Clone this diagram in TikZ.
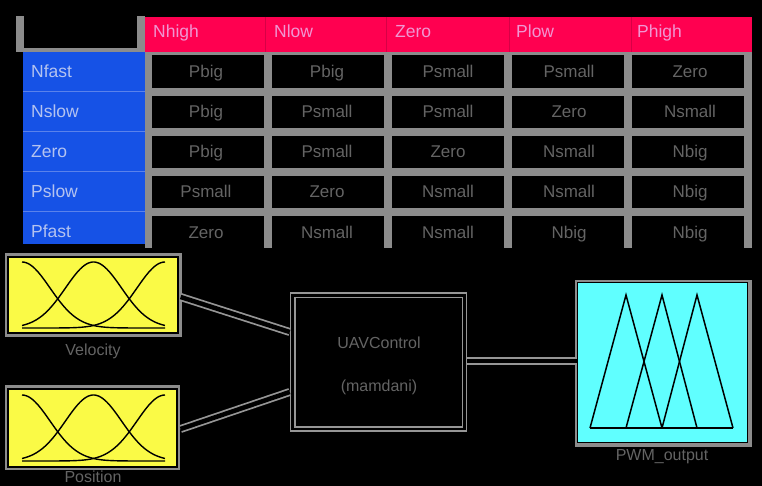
\documentclass[tikz,border=0pt]{standalone}
\usepackage{fontspec}
\setmainfont{Liberation Sans}
\definecolor{gridgray}{RGB}{140,140,140}
\definecolor{linegray}{RGB}{150,150,150}
\definecolor{hdrred}{RGB}{255,0,80}
\definecolor{hdrline}{RGB}{215,0,70}
\definecolor{hdrtext}{RGB}{240,150,210}
\definecolor{rowblue}{RGB}{22,82,230}
\definecolor{rowline}{RGB}{90,130,235}
\definecolor{rowtext}{RGB}{180,195,240}
\definecolor{celltext}{RGB}{100,100,100}
\definecolor{mfyellow}{RGB}{250,250,70}
\definecolor{outcyan}{RGB}{96,255,255}
\begin{document}
\begin{tikzpicture}[x=1pt,y=-1pt,
  fixh/.style={text height=14.5pt,text depth=2.5pt},
  hdr/.style={anchor=west,inner sep=0pt,fixh,text=hdrtext,font=\fontsize{17.5}{20}\selectfont},
  rowlab/.style={anchor=west,inner sep=0pt,fixh,text=rowtext,font=\fontsize{17.5}{20}\selectfont},
  cell/.style={inner sep=0pt,fixh,text=celltext,font=\fontsize{17}{20}\selectfont},
  lab/.style={inner sep=0pt,text=celltext,font=\fontsize{16}{19}\selectfont},
  mfbox/.style={draw=black,line width=1.2pt,inner sep=0pt},
  conn/.style={line width=4.5pt,black,preaction={draw=linegray,line width=8pt}},
  mfcurve/.style={line width=1.4pt,black,samples=70},
  tri/.style={line width=1.5pt,black,line join=miter}]
\useasboundingbox (0,0) rectangle (762,486);
\fill[black] (0,0) rectangle (762,486);

% ---------- table ----------
\fill[gridgray] (16,16) rectangle (24,52);
\fill[gridgray] (137,16) rectangle (145,52);
\fill[gridgray] (23,48) rectangle (145,52);
\fill[hdrred] (145,17) rectangle (752,52);
\foreach \x in {265,386,509,631}
  \draw[hdrline,line width=0.8pt] (\x,17) -- (\x,52);
\fill[gridgray] (145,52) rectangle (752,248);
\foreach \cx in {152,272,392,512,632}
  \foreach \cy/\cyy in {55/88,96/128,136/168,176/208,216/248}
    \fill[black] (\cx,\cy) rectangle (\cx+112,\cyy);
\fill[rowblue] (23,52) rectangle (145,244);
\foreach \y in {91,131,171,211}
  \draw[rowline,line width=0.8pt] (23,\y) -- (145,\y);

\foreach \t [count=\i] in {Nhigh,Nlow,Zero,Plow,Phigh}
  \node[hdr] (h\i) at (32+121*\i,32) {\t};
\foreach \t/\y [count=\i] in {Nfast/72,Nslow/112,Zero/152,Pslow/192,Pfast/231}
  \node[rowlab] (r\i) at (31,\y) {\t};

\foreach \a/\b/\c/\d/\e [count=\i] in {
  Pbig/Pbig/Psmall/Psmall/Zero,
  Pbig/Psmall/Psmall/Zero/Nsmall,
  Pbig/Psmall/Zero/Nsmall/Nbig,
  Psmall/Zero/Nsmall/Nsmall/Nbig,
  Zero/Nsmall/Nsmall/Nbig/Nbig}{
  \pgfmathsetmacro{\yy}{32+40*\i}
  \node[cell] (c\i1) at (206,\yy) {\a};
  \node[cell] (c\i2) at (327,\yy) {\b};
  \node[cell] (c\i3) at (448,\yy) {\c};
  \node[cell] (c\i4) at (569,\yy) {\d};
  \node[cell] (c\i5) at (690,\yy) {\e};
}

% ---------- input boxes ----------
\fill[gridgray] (5,253) rectangle (182,337);
\node[mfbox,fill=mfyellow,minimum width=170pt,minimum height=76pt] (vel) at (93,295) {};
\foreach \m in {22,93.5,165}
  \draw[mfcurve] plot[domain=22:165] (\x,{328-66*exp(-0.5*((\x-\m)/28)^2)});
\node[lab] (vellab) at (93,351) {Velocity};

\fill[gridgray] (5,385) rectangle (180,470);
\node[mfbox,fill=mfyellow,minimum width=169pt,minimum height=78pt] (pos) at (92.5,428) {};
\foreach \m in {22,93.5,165}
  \draw[mfcurve] plot[domain=22:165] (\x,{461-66*exp(-0.5*((\x-\m)/28)^2)});
\node[lab] (poslab) at (93,477) {Position};

% ---------- controller ----------
\node[draw=linegray,line width=1.5pt,minimum width=176pt,minimum height=138pt,inner sep=0pt] (uav) at (378.5,362) {};
\draw[linegray,line width=1.5pt] ([shift={(5,5)}]uav.north west) rectangle ([shift={(-5,-5)}]uav.south east);
\node[lab] (uavt1) at (379,343) {UAVControl};
\node[lab] (uavt2) at (379,387) {(mamdani)};

% ---------- output box ----------
\fill[gridgray] (575,280) rectangle (752,447);
\node[draw=black,line width=0.8pt,fill=outcyan,minimum width=170pt,minimum height=160pt,inner sep=0pt] (pwm) at (662,362) {};
\draw[tri] (590,428) -- (733,428);
\draw[tri] (590,428) -- (626,295) -- (662,428);
\draw[tri] (626,428) -- (662,295) -- (697,428);
\draw[tri] (662,428) -- (697,295) -- (733,428);
\node[lab] (pwmlab) at (662,457) {PWM\_output};

% ---------- connectors ----------
\coordinate (v1) at ([shift={(2,2)}]vel.east);
\coordinate (u1) at ([shift={(0,-30)}]uav.west);
\coordinate (p1) at ([shift={(3,1)}]pos.east);
\coordinate (u2) at ([shift={(0,30)}]uav.west);
\coordinate (u3) at ([shift={(0,-1)}]uav.east);
\coordinate (w1) at ([shift={(0,-1)}]pwm.west);
\draw[conn] (v1) -- (u1);
\draw[conn] (p1) -- (u2);
\draw[conn] (u3) -- (w1);
\end{tikzpicture}
\end{document}
